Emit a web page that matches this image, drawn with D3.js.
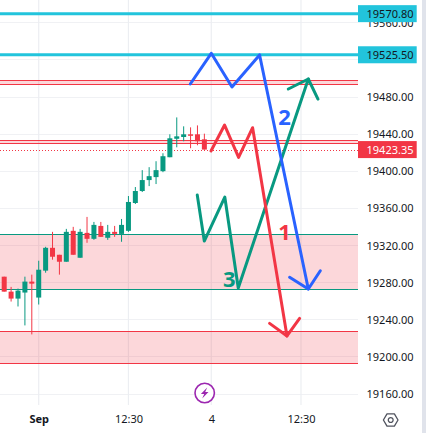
<!DOCTYPE html>
<html><head><meta charset="utf-8">
<script src="https://cdn.jsdelivr.net/npm/d3@7"></script>
<style>
html,body{margin:0;padding:0;background:#fff;overflow:hidden}
svg{display:block}
text{font-family:"Noto Sans",sans-serif}
</style></head><body><div id="chart"></div>
<script>
const opens =[19286.4,19270.3,19262.8,19269.3,19281.1,19263.9,19292.9,19317.5,19310,19302.5,19335.8,19306.8,19333.6,19327.2,19341.1,19328.3,19334.7,19332.5,19335.8,19365.8,19378.7,19390.5,19393.7,19400.1,19415.1,19435,19436.9,19439.8,19439.8,19434.4];
const highs =[19286.4,19275.4,19273.6,19286.4,19288.6,19303.6,19318.6,19334.7,19310,19337.9,19340.1,19337.9,19350.8,19345.4,19345.4,19342.2,19341.1,19348.6,19373.3,19383,19401.2,19404.4,19410.8,19419.4,19439.8,19458,19448.4,19447.3,19449.4,19440.5];
const lows  =[19270.3,19259.6,19254.3,19233.9,19224.2,19256.4,19290.7,19304.7,19288.6,19302.5,19310,19306.8,19322.9,19326.1,19329.3,19326.1,19329.3,19324,19334.7,19364.7,19377.6,19384,19386.2,19399,19415.1,19425.8,19432.3,19424.8,19428,19423.35];
const closes=[19270.3,19262.8,19271.4,19281.1,19278.9,19293.9,19317.5,19307.9,19302.5,19334.7,19310,19334.7,19327.2,19342.2,19329.3,19334.7,19332.5,19342.2,19366.9,19378.7,19390.5,19394.7,19401.2,19416.2,19435.5,19437.6,19439.8,19438.7,19432.3,19423.35];

const priceTicks=[19560,19520,19480,19440,19400,19360,19320,19280,19240,19200,19160];
const priceLabels=[19480,19440,19400,19360,19320,19280,19240,19200,19160];
const hiddenLabel=19560;
const timeTicks=[5,18,30,43];
const timeLabels=["Sep","12:30","4","12:30"];

const levelPrices=[19569.8,19525.5];
const levelLabels=["19570.80","19525.50"];
const lastPrice=19423.35;
const lastLabel="19423.35";

const zoneTops=[19498,19432.9,19332,19227.5];
const zoneBottoms=[19493.7,19430.1,19272.8,19193];
const zoneKinds=["red","red","green","red"];

const blueIdx=[26.96,30,33,37,44.06,45.8];
const bluePx=[19494,19527.1,19490.8,19525.3,19273.1,19292.8];
const blueArmIdx=[41.35,44.06];
const blueArmPx=[19285.7,19273.1];
const redIdx=[29.96,31.93,33.96,35.99,40.97,42.8];
const redPx=[19421.8,19449.8,19415,19446.9,19222.5,19241.5];
const redArmIdx=[38.45,40.97];
const redArmPx=[19236.1,19222.5];
const greenIdx=[27.97,28.99,31.96,33.91,44.06,45.46];
const greenPx=[19374.4,19324.8,19372.2,19274.2,19499.4,19477.8];
const greenArmIdx=[41.16,44.06];
const greenArmPx=[19488.6,19499.4];

const noteTexts=["1","2","3"];
const noteIdx=[40.6,40.6,32.6];
const notePx=[19334.8,19458.1,19283.9];
const noteKinds=["red","blue","green"];

const W=426,H=433,plotR=358,plotB=405;
const C={red:"#f23645",green:"#089981",blue:"#2962ff",cyan:"#22c4dc",grid:"#f0f1f4",vgrid:"#eceef2",ink:"#131722"};

const x=d3.scaleLinear().domain([0,43]).range([4.2,301]);
const y=d3.scaleLinear().domain([19160,19480]).range([394,97]);

const svg=d3.select("#chart").append("svg").attr("width",W).attr("height",H);
svg.append("rect").attr("width",W).attr("height",H).attr("fill","#fff");
svg.append("rect").attr("x",422).attr("width",4).attr("height",H).attr("fill","#e0e3eb");

// grid
svg.append("g").selectAll("line").data(priceTicks).join("line")
 .attr("x1",0).attr("x2",plotR).attr("y1",d=>y(d)).attr("y2",d=>y(d))
 .attr("stroke",C.grid).attr("stroke-width",1).attr("shape-rendering","crispEdges");
svg.append("g").selectAll("line").data(timeTicks).join("line")
 .attr("x1",d=>x(d)).attr("x2",d=>x(d)).attr("y1",0).attr("y2",plotB)
 .attr("stroke",C.vgrid).attr("stroke-width",1.2);

// zones
const zones=svg.append("g").selectAll("g").data(zoneTops.map((t,i)=>i)).join("g");
zones.append("rect").attr("x",0).attr("width",plotR)
 .attr("y",i=>y(zoneTops[i])).attr("height",i=>y(zoneBottoms[i])-y(zoneTops[i]))
 .attr("fill","rgba(242,54,69,0.2)");
[zoneTops,zoneBottoms].forEach(arr=>{
 zones.append("line").attr("x1",0).attr("x2",plotR)
  .attr("y1",i=>y(arr[i])).attr("y2",i=>y(arr[i]))
  .attr("stroke",i=>C[zoneKinds[i]]).attr("stroke-width",1).attr("shape-rendering","crispEdges");
});

// last price dotted
svg.append("line").attr("x1",0).attr("x2",plotR).attr("y1",y(lastPrice)+0.6).attr("y2",y(lastPrice)+0.6)
 .attr("stroke",C.red).attr("stroke-width",1).attr("stroke-dasharray","1 2").attr("shape-rendering","crispEdges");

// candles
const cg=svg.append("g").selectAll("g").data(opens.map((o,i)=>i)).join("g");
const col=i=>closes[i]>=opens[i]?C.green:C.red;
cg.append("line").attr("x1",i=>x(i)).attr("x2",i=>x(i)).attr("y1",i=>y(highs[i])).attr("y2",i=>y(lows[i]))
 .attr("stroke",col).attr("stroke-width",1);
cg.append("rect").attr("x",i=>x(i)-2.5).attr("width",5)
 .attr("y",i=>y(Math.max(opens[i],closes[i])))
 .attr("height",i=>Math.max(1.5,Math.abs(y(opens[i])-y(closes[i]))))
 .attr("fill",col);

// level lines
svg.append("g").selectAll("line").data(levelPrices).join("line")
 .attr("x1",0).attr("x2",plotR).attr("y1",d=>y(d)).attr("y2",d=>y(d))
 .attr("stroke",C.cyan).attr("stroke-width",3);

// hand drawn polylines
const path=d3.line().x(d=>x(d[0])).y(d=>y(d[1]));
const draw=(xs,ys,c)=>svg.append("path").attr("d",path(xs.map((v,i)=>[v,ys[i]])))
 .attr("fill","none").attr("stroke",c).attr("stroke-width",3).attr("stroke-linejoin","round").attr("stroke-linecap","round");
draw(greenIdx,greenPx,C.green); draw(greenArmIdx,greenArmPx,C.green);
draw(redIdx,redPx,C.red); draw(redArmIdx,redArmPx,C.red);
draw(blueIdx,bluePx,C.blue); draw(blueArmIdx,blueArmPx,C.blue);

svg.append("g").selectAll("text").data(noteTexts).join("text")
 .attr("x",(d,i)=>x(noteIdx[i])).attr("y",(d,i)=>y(notePx[i])).attr("dy","0.36em")
 .attr("text-anchor","middle").attr("font-size",22).attr("font-weight",700)
 .attr("fill",(d,i)=>C[noteKinds[i]]).text(d=>d);

// y axis
const yAxis=svg.append("g").attr("transform",`translate(${plotR+8.5},0)`)
 .call(d3.axisRight(y).tickValues([hiddenLabel].concat(priceLabels)).tickSize(0).tickPadding(0).tickFormat(d3.format(".2f")));
yAxis.select(".domain").remove();
yAxis.selectAll("text").attr("font-size",11).attr("font-family",'"Noto Sans",sans-serif').attr("fill",C.ink);

// x axis
const xAxis=svg.append("g").attr("transform",`translate(0,${plotB})`)
 .call(d3.axisBottom(x).tickValues(timeTicks).tickSize(0).tickPadding(0).tickFormat((d,i)=>timeLabels[i]));
xAxis.select(".domain").remove();
xAxis.selectAll("text").attr("font-size",11).attr("font-family",'"Noto Sans",sans-serif').attr("fill",C.ink)
 .attr("y",18).attr("dy",0).attr("font-weight",(d,i)=>i===0?700:400);

// price labels
const tags=levelPrices.map((p,i)=>({p,t:levelLabels[i],bg:C.cyan,fg:C.ink})).concat([{p:lastPrice,t:lastLabel,bg:C.red,fg:"#fff"}]);
const tg=svg.append("g").selectAll("g").data(tags).join("g").attr("transform",d=>`translate(${plotR},${y(d.p)})`);
tg.append("rect").attr("y",-8.5).attr("width",58.7).attr("height",17).attr("fill",d=>d.bg);
tg.append("text").attr("x",8.5).attr("dy","0.36em").attr("font-size",11).attr("fill",d=>d.fg).text(d=>d.t);

// lightning icon
const bolt=svg.append("g").attr("transform","translate(204.7,393)");
bolt.append("circle").attr("r",9.7).attr("fill","#fff").attr("stroke","#9c27b0").attr("stroke-width",1.6);
bolt.append("path").attr("d","M2.5,-5.5 L-3.8,1 L-0.5,1 L-2.5,5.5 L3.8,-1 L0.5,-1 Z").attr("fill","#9c27b0");

// settings icon
const gear=svg.append("g").attr("transform","translate(390.7,420)").attr("fill","none").attr("stroke","#50535e").attr("stroke-width",1.3);
gear.append("path").attr("d","M-7.3,0 L-3.7,-6.2 L3.7,-6.2 L7.3,0 L3.7,6.2 L-3.7,6.2 Z").attr("stroke-linejoin","round");
gear.append("circle").attr("r",2.4);
</script></body></html>
